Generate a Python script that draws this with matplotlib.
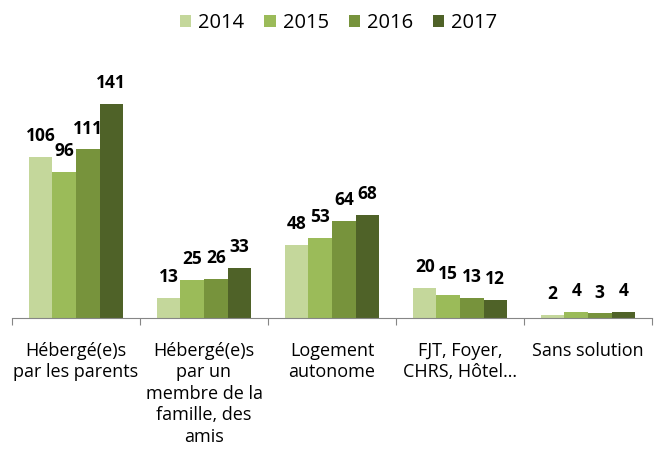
import matplotlib
matplotlib.use("Agg")
import matplotlib.pyplot as plt
import numpy as np

categories = ["Hébergé(e)s\npar les parents",
              "Hébergé(e)s\npar un\nmembre de la\nfamille, des\namis",
              "Logement\nautonome",
              "FJT, Foyer,\nCHRS, Hôtel…",
              "Sans solution"]
years = ["2014", "2015", "2016", "2017"]
v2014 = [106, 13, 48, 20, 2]
v2015 = [96, 25, 53, 15, 4]
v2016 = [111, 26, 64, 13, 3]
v2017 = [141, 33, 68, 12, 4]
colors = ["#c4d79b", "#9bbb59", "#77933c", "#4f6228"]

plt.rcParams['font.family'] = ['Open Sans', 'DejaVu Sans']

fig = plt.figure(figsize=(6.54, 4.57), dpi=100)
ax = fig.add_axes([12/654, 139/457, 640/654, (318-75)/457])

series = [v2014, v2015, v2016, v2017]
x = np.arange(len(categories))
w = 0.184
for i, (vals, c, y) in enumerate(zip(series, colors, years)):
    pos = x + (i - 1.5) * w
    ax.bar(pos, vals, width=w, color=c, label=y, linewidth=0)
    for p, v in zip(pos, vals):
        ax.annotate(str(v), (p, v), xytext=(0, 15), textcoords='offset points',
                    ha='center', va='center',
                    fontsize=12.5, fontweight='bold', color='black')

ax.set_xlim(-0.5, len(categories) - 0.5)
ax.set_ylim(0, 160)
for s in ['top', 'right', 'left']:
    ax.spines[s].set_visible(False)
ax.spines['bottom'].set_color('#868686')
ax.set_yticks([])
ax.set_xticks(np.arange(len(categories) + 1) - 0.5)
ax.set_xticklabels([])
ax.tick_params(axis='x', length=5, color='#868686', direction='out')
ax.set_xticks(x, minor=True)
ax.set_xticklabels(categories, minor=True, fontsize=13, linespacing=1.25)
ax.tick_params(axis='x', which='minor', length=0, pad=17)

fig.legend(loc='center', ncol=4, bbox_to_anchor=(0.518, 1 - 23/457),
           frameon=False, fontsize=14.5, handlelength=0.55, handleheight=0.55,
           columnspacing=1.0, handletextpad=0.35)

fig.savefig("out.png", dpi=100)
